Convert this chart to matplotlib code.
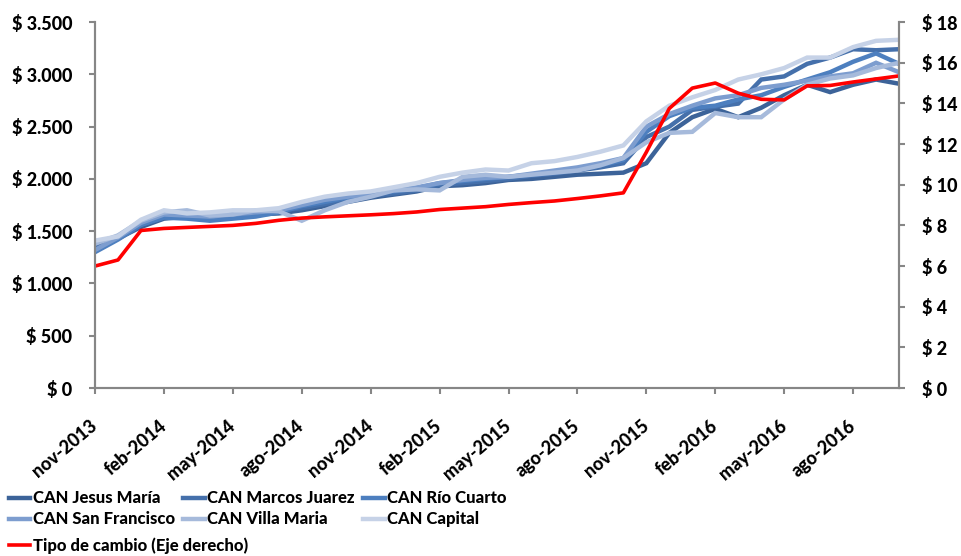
import numpy as np
import matplotlib.pyplot as plt

# Canasta alimentaria (CAN) por localidad vs tipo de cambio
meses = ['nov-2013', 'dic-2013', 'ene-2014', 'feb-2014', 'mar-2014', 'abr-2014',
         'may-2014', 'jun-2014', 'jul-2014', 'ago-2014', 'sep-2014', 'oct-2014',
         'nov-2014', 'dic-2014', 'ene-2015', 'feb-2015', 'mar-2015', 'abr-2015',
         'may-2015', 'jun-2015', 'jul-2015', 'ago-2015', 'sep-2015', 'oct-2015',
         'nov-2015', 'dic-2015', 'ene-2016', 'feb-2016', 'mar-2016', 'abr-2016',
         'may-2016', 'jun-2016', 'jul-2016', 'ago-2016', 'sep-2016', 'oct-2016']

jesus_maria = [1340, 1430, 1540, 1620, 1640, 1640, 1650, 1660, 1670, 1700, 1740, 1780,
               1820, 1850, 1880, 1930, 1940, 1960, 1990, 2000, 2020, 2040, 2050, 2060,
               2150, 2440, 2590, 2670, 2590, 2680, 2800, 2900, 2830, 2900, 2950, 2910]
marcos_juarez = [1360, 1450, 1560, 1650, 1660, 1650, 1660, 1690, 1700, 1720, 1760, 1800,
                 1840, 1860, 1890, 1940, 1960, 1980, 2000, 2030, 2050, 2080, 2110, 2150,
                 2400, 2500, 2660, 2690, 2720, 2950, 2980, 3100, 3160, 3240, 3230, 3240]
rio_cuarto = [1300, 1420, 1560, 1630, 1620, 1600, 1620, 1640, 1680, 1740, 1780, 1820,
              1860, 1880, 1910, 1960, 1980, 2000, 2020, 2040, 2060, 2090, 2130, 2180,
              2450, 2600, 2680, 2700, 2760, 2800, 2880, 2950, 3020, 3120, 3200, 3100]
san_francisco = [1320, 1440, 1580, 1660, 1650, 1640, 1660, 1680, 1700, 1750, 1800, 1830,
                 1860, 1890, 1920, 1960, 1990, 2010, 2020, 2050, 2080, 2110, 2150, 2200,
                 2500, 2620, 2700, 2770, 2800, 2870, 2900, 2940, 2980, 3010, 3110, 3020]
villa_maria = [1380, 1460, 1600, 1680, 1700, 1650, 1660, 1700, 1690, 1600, 1700, 1780,
               1830, 1890, 1900, 1890, 2020, 2040, 2020, 2040, 2060, 2080, 2130, 2200,
               2350, 2440, 2450, 2630, 2590, 2590, 2760, 2900, 2960, 2990, 3060, 3110]
capital = [1410, 1450, 1610, 1700, 1670, 1680, 1700, 1700, 1720, 1780, 1830, 1860,
           1880, 1920, 1960, 2020, 2060, 2090, 2080, 2150, 2170, 2210, 2260, 2320,
           2550, 2700, 2780, 2850, 2950, 3000, 3060, 3160, 3160, 3260, 3320, 3330]
tipo_cambio = [6.0, 6.3, 7.75, 7.85, 7.9, 7.95, 8.0, 8.1, 8.25, 8.36, 8.42, 8.47,
               8.52, 8.58, 8.66, 8.78, 8.85, 8.92, 9.03, 9.12, 9.2, 9.32, 9.45, 9.6,
               11.6, 13.75, 14.75, 15.0, 14.5, 14.2, 14.17, 14.86, 14.88, 15.05, 15.2, 15.35]

series = [('CAN Jesus María', jesus_maria, '#3c6399'),
          ('CAN Marcos Juarez', marcos_juarez, '#4570ab'),
          ('CAN Río Cuarto', rio_cuarto, '#4d7fbf'),
          ('CAN San Francisco', san_francisco, '#7d9dcf'),
          ('CAN Villa Maria', villa_maria, '#a6badb'),
          ('CAN Capital', capital, '#c6d2e7')]

plt.rcParams['font.family'] = ['Lato', 'DejaVu Sans']
plt.rcParams['font.weight'] = 'black'
gris = '#868686'

x = np.arange(len(meses))
fig = plt.figure(figsize=(9.61, 5.56), dpi=100)
ax = fig.add_axes([0.0989, 0.302, 0.8366, 0.6584])
ax2 = ax.twinx()

lineas = {}
for nombre, valores, color in series:
    lineas[nombre], = ax.plot(x, valores, color=color, lw=3.2, solid_joinstyle='miter')
lineas['tc'], = ax2.plot(x, tipo_cambio, color='#ff0000', lw=2.6)

ax.set_xlim(0, len(meses) - 1)
ax.set_ylim(0, 3500)
ax.set_yticks(np.arange(0, 3501, 500))
ax.set_yticklabels(['$ ' + f'{v:,}'.replace(',', '.') for v in range(0, 3501, 500)])
ax2.set_ylim(0, 18)
ax2.set_yticks(np.arange(0, 19, 2))
ax2.set_yticklabels([f'$ {v}' for v in range(0, 19, 2)])

ax.set_xticks(x[::3])
ax.set_xticklabels(meses[::3], rotation=40, ha='right', va='center',
                   rotation_mode='anchor')

for a in (ax, ax2):
    a.spines['top'].set_visible(False)
    for s in ('left', 'right', 'bottom'):
        a.spines[s].set_color(gris)
        a.spines[s].set_linewidth(1.5)
    a.tick_params(axis='both', colors=gris, length=4.5, width=1.5, labelsize=13,
                  labelcolor='black', pad=12)
ax.tick_params(axis='x', pad=21)

orden = ['CAN Jesus María', 'CAN San Francisco', 'CAN Marcos Juarez',
         'CAN Villa Maria', 'CAN Río Cuarto', 'CAN Capital']
fig.legend([lineas[n] for n in orden], orden, ncol=3, loc='upper left',
           bbox_to_anchor=(0.009, 0.118), frameon=False, fontsize=12,
           handlelength=1.3, handletextpad=0.15, columnspacing=0.5,
           labelspacing=0.3, borderaxespad=0, borderpad=0)
fig.legend([lineas['tc']], ['Tipo de cambio (Eje derecho)'], loc='upper left',
           bbox_to_anchor=(0.009, 0.034), frameon=False, fontsize=12,
           handlelength=1.3, handletextpad=0.15, borderaxespad=0, borderpad=0)

fig.savefig('out.png', dpi=100)
